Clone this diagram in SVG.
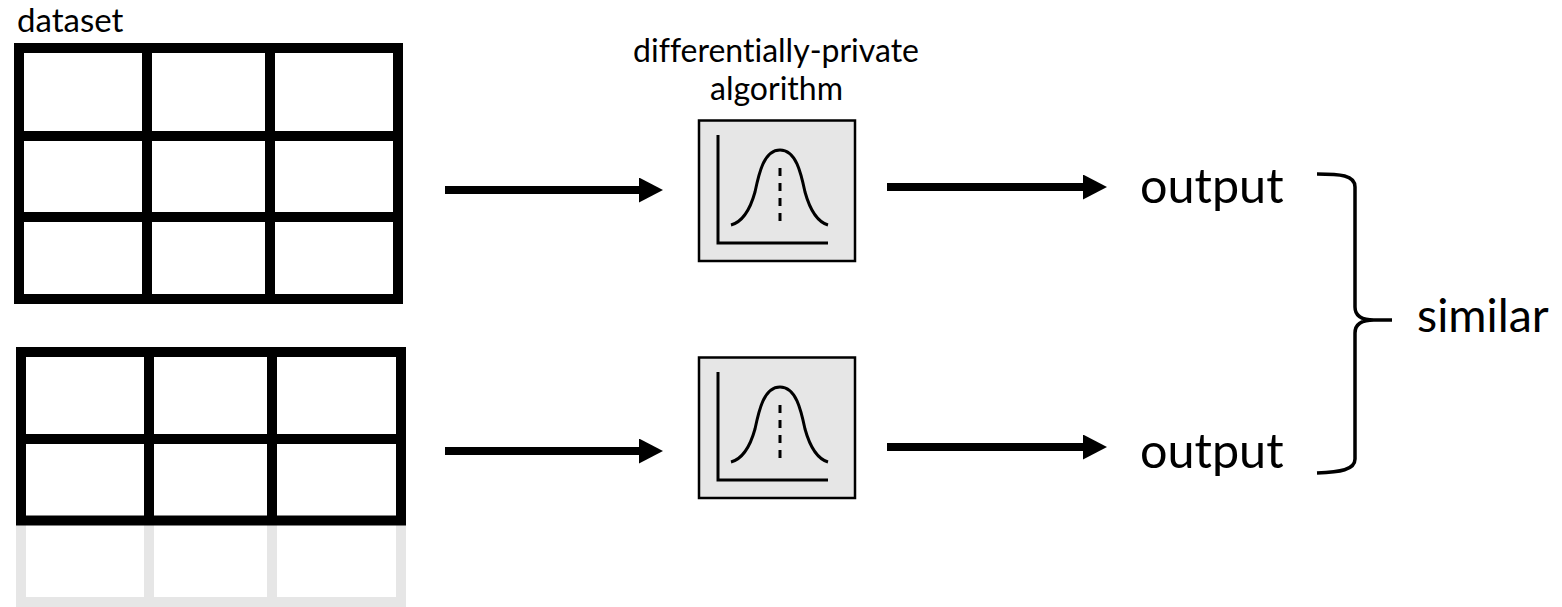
<svg xmlns="http://www.w3.org/2000/svg" width="1562" height="607" viewBox="0 0 1562 607">
<style>
.grid{fill:none;stroke:#000;stroke-width:10}
.ghost{fill:none;stroke:#e6e6e6;stroke-width:10}
.box{fill:#e6e6e6;stroke:#000;stroke-width:2.5}
.ax{fill:none;stroke:#000;stroke-width:3}
.dash{fill:none;stroke:#000;stroke-width:3;stroke-dasharray:8 7}
.conn{stroke:#000;stroke-width:8;fill:none}
.lbl{font-family:Lato,"Liberation Sans",sans-serif;fill:#000;font-variant-ligatures:none}
</style>
<defs>
<marker id="ah" markerUnits="userSpaceOnUse" markerWidth="24" markerHeight="25" viewBox="0 0 24 25" refX="2" refY="12.5" orient="auto">
<path d="M0,0 L24,12.5 L0,25 z" fill="#000"/>
</marker>
<g id="curve">
<rect class="box" x="699" y="120.5" width="156" height="140.5"/>
<path class="ax" d="M718,135 L718,243 L828,243"/>
<path class="ax" d="M731,225 C742,222 750,210 755,192 C759,173 764,150 780,150 C796,150 801,173 805,192 C810,210 818,222 828,225"/>
<path class="dash" d="M780,168 L780,221"/>
</g>
</defs>
<g id="dataset1">
<text class="lbl" x="17" y="32" font-size="33">dataset</text>
<rect class="grid" x="19" y="48" width="379" height="251"/>
<path class="grid" d="M147,48 V299 M270,48 V299 M19,136 H398 M19,217 H398"/>
</g>
<g id="dataset2">
<path class="ghost" d="M21,520 V602 H401 V520 M149,520 V602 M272,520 V602"/>
<rect class="grid" x="21" y="352" width="380" height="168.5"/>
<path class="grid" d="M149,352 V520 M272,352 V520 M21,439 H401"/>
</g>
<g id="algorithm1">
<text class="lbl" x="776" y="62" font-size="32" text-anchor="middle">differentially-private</text>
<text class="lbl" x="776.5" y="100" font-size="32" text-anchor="middle">algorithm</text>
<use href="#curve"/>
</g>
<g id="algorithm2">
<use href="#curve" transform="translate(0,237)"/>
</g>
<g id="output1">
<text class="lbl" x="1140" y="203" font-size="48.5">output</text>
</g>
<g id="output2">
<text class="lbl" x="1140" y="468" font-size="48.5">output</text>
</g>
<g id="similar">
<path fill="none" stroke="#000" stroke-width="3.5" d="M1317,174 C1340,174 1355,175 1355,187 L1355,307 C1355,316 1362,320 1374,320 L1392,320 M1374,320 C1362,320 1355,324 1355,333 L1355,459 C1355,470 1340,472 1317,473"/>
<text class="lbl" x="1417" y="332" font-size="46.5">similar</text>
</g>
<g id="connectors">
<line class="conn" x1="445" y1="190" x2="641" y2="190" marker-end="url(#ah)"/>
<line class="conn" x1="887" y1="187" x2="1085" y2="187" marker-end="url(#ah)"/>
<line class="conn" x1="445" y1="451" x2="641" y2="451" marker-end="url(#ah)"/>
<line class="conn" x1="887" y1="447" x2="1085" y2="447" marker-end="url(#ah)"/>
</g>
</svg>
